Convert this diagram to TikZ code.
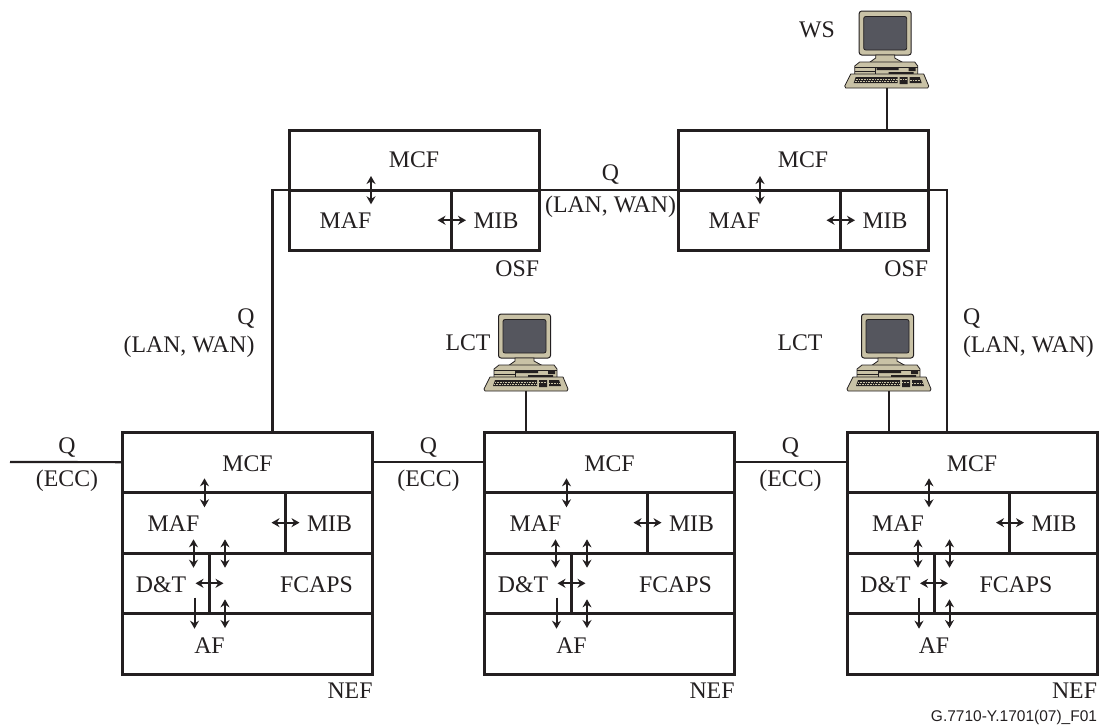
\documentclass[tikz,border=0pt]{standalone}
\usepackage{fontspec}
\setmainfont{Liberation Serif}
\newfontfamily\figfont{Liberation Sans}
\usetikzlibrary{arrows.meta}
\definecolor{ink}{HTML}{231F20}
\definecolor{casing}{HTML}{C9C2A6}
\definecolor{screen}{HTML}{55565E}
\tikzset{
  every node/.style={inner sep=0pt, outer sep=0pt, text=ink},
  txt/.style={font=\fontsize{23.8}{30}\selectfont},
  layer/.style={draw=ink, line width=3pt, anchor=north west, minimum width=250pt},
  divide/.style={draw=ink, line width=3pt},
  wire/.style={draw=ink, line width=2.2pt},
  twoway/.style={draw=ink, line width=2pt, {Stealth[length=8pt,width=9pt]}-{Stealth[length=8pt,width=9pt]}},
  oneway/.style={draw=ink, line width=2pt, -{Stealth[length=8pt,width=9pt]}},
  pics/computer/.style={code={
    % Monitor
    \draw[draw=ink, fill=casing, line width=1pt, rounded corners=2.5pt] (-27.5,0) rectangle (24.5,44);
    \draw[draw=ink, fill=screen, line width=.8pt, rounded corners=2pt] (-23,5.5) rectangle (20,39);
    \draw[draw=ink, fill=casing, line width=.8pt] (-11,44) -- (8,44) -- (8,47) -- (17,52) -- (-18,52) -- (-11,47) -- cycle;
    % Case
    \draw[draw=ink, fill=casing, line width=.8pt] (-27,51) -- (28,51) -- (31,55) -- (31,65) -- (-32,65) -- (-32,55) -- cycle;
    \draw[draw=ink, line width=.6pt] (-32,56) -- (31,56) (-32,60) -- (-11,60) (-11,56) -- (-11,65);
    \fill[ink] (-10,57) rectangle (12,59) (2,61) rectangle (27,64) (22,57) rectangle (29,60);
    % Keyboard
    \draw[draw=ink, fill=casing, line width=.8pt, line join=round] (-36,63) -- (37,63) -- (42,75) -- (41,77) -- (-41,77) -- (-42,75) -- cycle;
    \fill[ink] (-31,66) -- (11,66) -- (11,72) -- (-33,72) -- cycle (13,66) rectangle (21,73) (23,66) -- (33,66) -- (35,72) -- (23,72) -- cycle;
    \draw[draw=casing, line width=.5pt, dash pattern=on .8pt off .8pt] (-31,68) -- (11,68) (-32,70) -- (11,70) (13,68) -- (21,68) (23,69) -- (34,69);
    \coordinate (-foot) at (0,76.5);
  }}
}

\begin{document}
\begin{tikzpicture}[x=1pt, y=-1pt]
\useasboundingbox (0,0) rectangle (1099,726);

% Network element blocks
\foreach \n/\x/\fcaps in {nefa/122.5/194, nefb/484.5/191, nefc/847/169} {
  \begin{scope}[shift={(\x,432.3)}]
    \node (\n-mcf) [layer, minimum height=59.7pt] at (0,0) {};
    \node (\n-maf) [layer, minimum height=61.3pt] at (0,59.7) {};
    \node (\n-fun) [layer, minimum height=60pt] at (0,121) {};
    \node (\n-af) [layer, minimum height=61.4pt] at (0,181) {};
    \node (\n-mcftxt) [txt] at (125,31) {MCF};
    \node (\n-maftxt) [txt] at (51,91) {MAF};
    \node (\n-mibtxt) [txt] at (207,91) {MIB};
    \node (\n-dttxt) [txt] at (38.5,152) {D\&T};
    \node (\n-fcapstxt) [txt] at (\fcaps,152) {FCAPS};
    \node (\n-aftxt) [txt] at (87,213) {AF};
    \node (\n-label) [txt, anchor=east] at (250,258) {NEF};
  \end{scope}
  % Dividers
  \draw[divide] ([xshift=162.5pt]\n-maf.north west) -- ([xshift=162.5pt]\n-maf.south west);
  \draw[divide] ([xshift=87pt]\n-fun.north west) -- ([xshift=87pt]\n-fun.south west);
  % Arrows
  \draw[twoway] ([xshift=82pt,yshift=13.7pt]\n-mcf.south west) -- ([xshift=82pt,yshift=-15.3pt]\n-maf.north west);
  \draw[twoway] ([xshift=149pt]\n-maf.west) -- ([xshift=177pt]\n-maf.west);
  \draw[twoway] ([xshift=71pt,yshift=14pt]\n-maf.south west) -- ([xshift=71pt,yshift=-14.4pt]\n-fun.north west);
  \draw[twoway] ([xshift=102.5pt,yshift=14pt]\n-maf.south west) -- ([xshift=102.5pt,yshift=-14.4pt]\n-fun.north west);
  \draw[twoway] ([xshift=73pt]\n-fun.west) -- ([xshift=101pt]\n-fun.west);
  \draw[oneway] ([xshift=72pt,yshift=15.6pt]\n-fun.south west) -- ([xshift=72pt,yshift=-15.4pt]\n-af.north west);
  \draw[twoway] ([xshift=102.5pt,yshift=14pt]\n-fun.south west) -- ([xshift=102.5pt,yshift=-14.7pt]\n-af.north west);
}

% Operations system blocks
\foreach \n/\x in {osfa/289, osfb/678} {
  \begin{scope}[shift={(\x,130)}]
    \node (\n-mcf) [layer, minimum height=60pt] at (0,0) {};
    \node (\n-maf) [layer, minimum height=60.5pt] at (0,60) {};
    \node (\n-mcftxt) [txt] at (125,30) {MCF};
    \node (\n-maftxt) [txt] at (56.5,91) {MAF};
    \node (\n-mibtxt) [txt] at (207,91) {MIB};
    \node (\n-label) [txt, anchor=east] at (250,139) {OSF};
  \end{scope}
  \draw[divide] ([xshift=162.7pt]\n-maf.north west) -- ([xshift=162.7pt]\n-maf.south west);
  \draw[twoway] ([xshift=82pt,yshift=14pt]\n-mcf.south west) -- ([xshift=82pt,yshift=-14.3pt]\n-maf.north west);
  \draw[twoway] ([xshift=148.5pt]\n-maf.west) -- ([xshift=177pt]\n-maf.west);
}

% Terminals
\pic (ws) at (886.7,11) {computer};
\pic (lcta) at (526,314) {computer};
\pic (lctb) at (889,314) {computer};
\node (wstxt) [txt] at (817,30) {WS};
\node (lctatxt) [txt] at (468,343) {LCT};
\node (lctbtxt) [txt] at (800,343) {LCT};
\coordinate (qend) at (10,462);

% Connectors
\draw[wire] ([xshift=150pt]nefa-mcf.north west) |- (osfa-mcf.south west);
\draw[wire] (osfa-mcf.south east) -- (osfb-mcf.south west);
\draw[wire] (osfb-mcf.south east) -| ([xshift=100pt]nefc-mcf.north west);
\draw[wire] (ws-foot) -- (ws-foot |- osfb-mcf.north);
\draw[wire] (lcta-foot) -- (lcta-foot |- nefb-mcf.north);
\draw[wire] (lctb-foot) -- (lctb-foot |- nefc-mcf.north);
\draw[wire] (qend) -- (nefa-mcf.west);
\draw[wire] (nefa-mcf.east) -- (nefb-mcf.west);
\draw[wire] (nefb-mcf.east) -- (nefc-mcf.west);

% Interface labels
\node (qlanmid) [txt, align=center] at (610.5,191) {Q\\[2pt](LAN, WAN)};
\node (qlanleft) [txt, align=right, anchor=east] at (254.5,333) {Q\\[-2pt](LAN, WAN)};
\node (qlanright) [txt, align=left, anchor=west] at (963,333) {Q\\[-2pt](LAN, WAN)};
\node (qecca) [txt, align=center] at (67,465) {Q\\[3pt](ECC)};
\node (qeccb) [txt, align=center] at (428.5,465) {Q\\[3pt](ECC)};
\node (qeccc) [txt, align=center] at (790.5,465) {Q\\[3pt](ECC)};

\node (figref) [anchor=east, font=\figfont\fontsize{15.5}{18}\selectfont] at (1097,717) {G.7710-Y.1701(07)\_F01};

\end{tikzpicture}
\end{document}
